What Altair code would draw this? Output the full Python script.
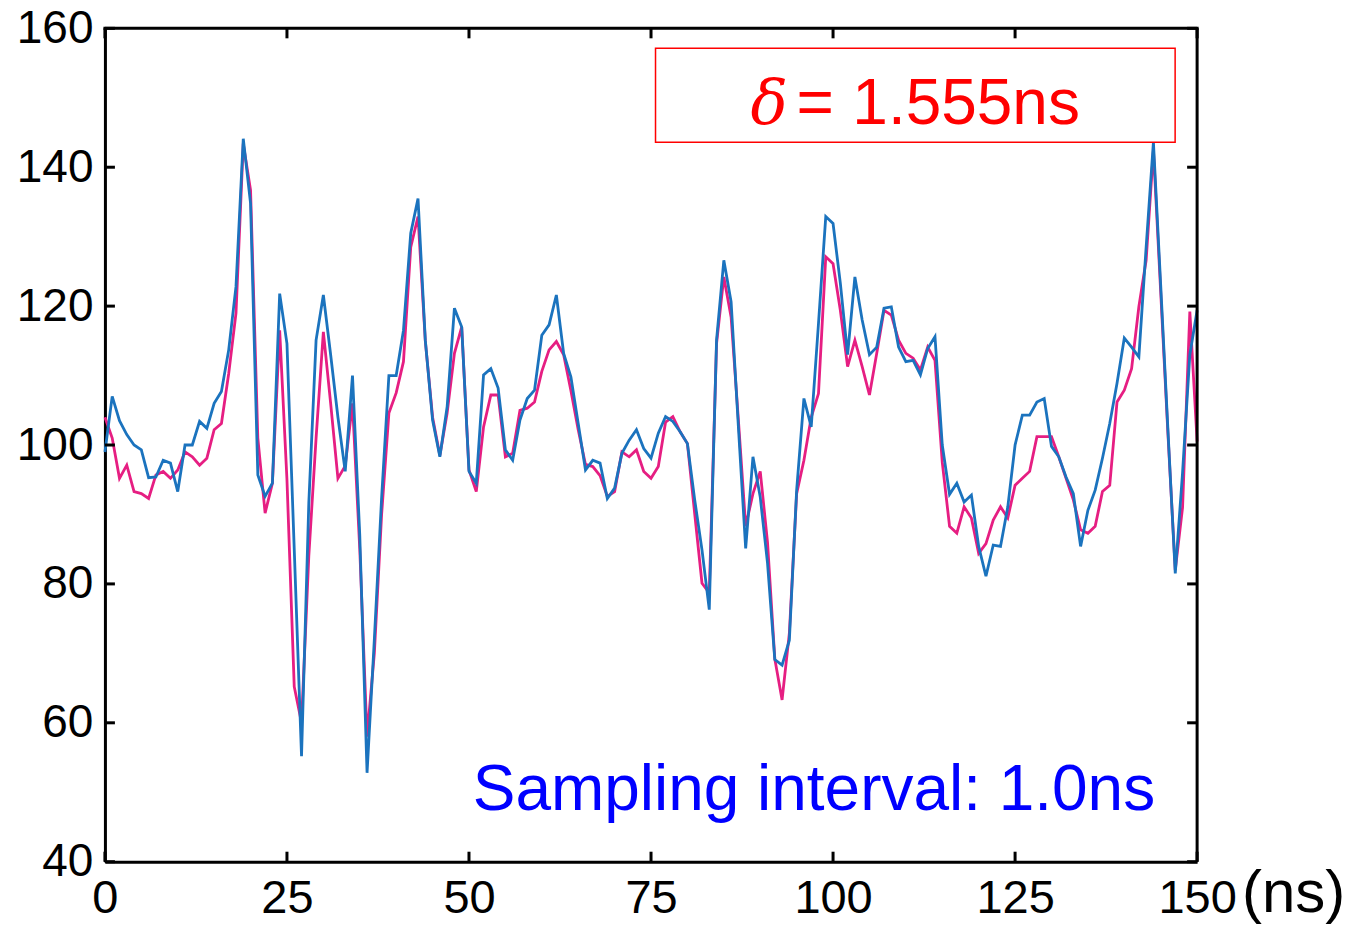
import altair as alt
import pandas as pd

# time axis (ns), sampling interval 1.0 ns
t_ns = list(range(151))

pink_vals = [
    104, 101, 95.2, 97.1, 93.3, 93, 92.3, 95.7, 96.2, 95.2,
    96.4, 99, 98.3, 97.1, 98.1, 102.2, 103.1, 110.3, 119, 143.4,
    136.7, 101, 90.2, 94.5, 116.5, 95, 65.2, 60, 84, 101,
    116.3, 106, 95.2, 97, 106, 85, 58, 70, 90, 104.6,
    107.5, 112, 128.5, 132.9, 115, 104, 98.5, 104.6, 113.2, 117,
    96.4, 93.3, 102.6, 107.2, 107.2, 98.3, 98.8, 105, 105.3, 106.2,
    110.6, 113.7, 114.9, 113, 107.8, 102.2, 97.2, 96.9, 95.6, 92.6,
    93.3, 99, 98.3, 99.3, 96.2, 95.2, 96.9, 103.3, 104.1, 101.9,
    100.2, 90.1, 80.1, 78.7, 114.6, 124.2, 118.4, 103.6, 88.3, 93,
    96.2, 86, 69.2, 63.3, 72.9, 93, 97.8, 104, 107.4, 127.1,
    126.1, 119.4, 111.3, 115.1, 111.3, 107.2, 113.2, 119.4, 118.7, 115.1,
    113.2, 112.5, 110.8, 114.1, 112.2, 97.5, 88.3, 87.3, 91.1, 89.5,
    84.4, 85.8, 89.2, 91.1, 89.5, 94.2, 95.2, 96.2, 101.2, 101.2,
    101.2, 98.3, 95.2, 92.1, 87.8, 87.3, 88.3, 93.3, 94.2, 106.2,
    107.9, 111, 119.9, 126.6, 142.5, 122, 101.5, 82, 91, 119.2,
    100.5,
]

blue_vals = [
    99, 107, 103.5, 101.5, 100, 99.3, 95.3, 95.4, 97.8, 97.4,
    93.3, 100, 100, 103.4, 102.4, 106, 107.7, 113.7, 122.8, 144.1,
    134.8, 95.7, 92.6, 94.5, 121.8, 114.6, 85, 55.2, 91.6, 115.1,
    121.6, 113, 104, 96.2, 110, 87, 52.8, 72, 92.4, 110,
    110, 116.5, 130.5, 135.5, 115.1, 103.6, 98.3, 105.5, 119.7, 117,
    96.2, 94.5, 110.1, 111, 108.2, 99.3, 97.8, 103.6, 106.7, 107.9,
    115.8, 117.3, 121.6, 113.2, 109.8, 103.1, 96.4, 97.8, 97.4, 92.3,
    93.8, 98.8, 100.7, 102.2, 99.5, 98.1, 101.7, 104.1, 103.4, 101.9,
    100.2, 92.1, 84.9, 76.3, 115.1, 126.6, 120.6, 102.6, 85.1, 98.3,
    92.5, 83, 69.1, 68.3, 71.9, 93.5, 106.7, 102.6, 117.5, 132.9,
    131.9, 123.3, 113, 124.2, 118, 113, 114.1, 119.7, 119.9, 114.1,
    112, 112.2, 110.1, 113.9, 115.6, 100, 92.9, 94.5, 91.8, 92.8,
    85.4, 81.1, 85.6, 85.4, 91.1, 100, 104.3, 104.3, 106.2, 106.7,
    99.8, 98.3, 95.4, 93, 85.4, 90.6, 93.5, 98.1, 103.1, 108.9,
    115.4, 114.1, 112.7, 128.5, 143.6, 123, 102, 81.5, 96, 113,
    119.4,
]

x_ticks = [0, 25, 50, 75, 100, 125, 150]
y_ticks = [40, 60, 80, 100, 120, 140, 160]

W, H = 1093, 834
FONT = "Liberation Sans"

df_pink = pd.DataFrame({"t": t_ns, "v": pink_vals})
df_blue = pd.DataFrame({"t": t_ns, "v": blue_vals})
df_xt = pd.DataFrame({"t": x_ticks})
df_yt = pd.DataFrame({"v": y_ticks})
one = pd.DataFrame({"a": [0]})

xscale = alt.Scale(domain=[0, 150], nice=False, zero=False)
yscale = alt.Scale(domain=[40, 160], nice=False, zero=False)

xaxis = alt.Axis(values=x_ticks, title=None, grid=False, tickSize=0,
                 labelPadding=14, labelFontSize=47, labelFont=FONT,
                 labelColor="#000", domainColor="#000", domainWidth=3,
                 labelFlush=False, labelOverlap=False)
yaxis = alt.Axis(values=y_ticks, title=None, grid=False, tickSize=0,
                 labelPadding=12, labelFontSize=46, labelFont=FONT,
                 labelColor="#000", domainColor="#000", domainWidth=3,
                 labelFlush=False, labelOverlap=False)

pink = alt.Chart(df_pink).mark_line(color="#E61E82", strokeWidth=2.8).encode(
    x=alt.X("t:Q", scale=xscale, axis=xaxis),
    y=alt.Y("v:Q", scale=yscale, axis=yaxis),
)
blue = alt.Chart(df_blue).mark_line(color="#1B73BE", strokeWidth=2.8).encode(
    x=alt.X("t:Q", scale=xscale, axis=xaxis),
    y=alt.Y("v:Q", scale=yscale, axis=yaxis),
)

tick_style = dict(color="#000", strokeWidth=3)
bottom_ticks = alt.Chart(df_xt).mark_rule(**tick_style).encode(
    x=alt.X("t:Q", scale=xscale), y=alt.value(H), y2=alt.value(H - 10))
top_ticks = alt.Chart(df_xt).mark_rule(**tick_style).encode(
    x=alt.X("t:Q", scale=xscale), y=alt.value(0), y2=alt.value(10))
left_ticks = alt.Chart(df_yt).mark_rule(**tick_style).encode(
    y=alt.Y("v:Q", scale=yscale), x=alt.value(0), x2=alt.value(10))
right_ticks = alt.Chart(df_yt).mark_rule(**tick_style).encode(
    y=alt.Y("v:Q", scale=yscale), x=alt.value(W), x2=alt.value(W - 10))

top_line = alt.Chart(one).mark_rule(color="#000", strokeWidth=3).encode(
    x=alt.value(-1.5), x2=alt.value(W + 1.5), y=alt.value(0))
right_line = alt.Chart(one).mark_rule(color="#000", strokeWidth=3).encode(
    x=alt.value(W), y=alt.value(0), y2=alt.value(H))

box = alt.Chart(one).mark_rect(
    fill="white", stroke="#FF0000", strokeWidth=1.5
).encode(x=alt.value(551), x2=alt.value(1071), y=alt.value(20), y2=alt.value(114))

delta_sym = alt.Chart(pd.DataFrame({"s": ["δ"]})).mark_text(
    font="DejaVu Serif", fontStyle="italic", fontSize=62, color="#FF0000",
    align="left", baseline="alphabetic"
).encode(text="s:N", x=alt.value(646), y=alt.value(96))

delta_eq = alt.Chart(pd.DataFrame({"s": ["="]})).mark_text(
    font=FONT, fontSize=64, color="#FF0000", align="left", baseline="alphabetic"
).encode(text="s:N", x=alt.value(692), y=alt.value(96))

delta_val = alt.Chart(pd.DataFrame({"s": ["1.555ns"]})).mark_text(
    font=FONT, fontSize=64, color="#FF0000", align="left", baseline="alphabetic"
).encode(text="s:N", x=alt.value(748), y=alt.value(96))

sampling = alt.Chart(pd.DataFrame({"s": ["Sampling interval: 1.0ns"]})).mark_text(
    font=FONT, fontSize=64, color="#0000FF", align="right", baseline="alphabetic"
).encode(text="s:N", x=alt.value(1051), y=alt.value(782))

unit = alt.Chart(pd.DataFrame({"s": ["(ns)"]})).mark_text(
    font=FONT, fontSize=60, color="#000", align="left", baseline="alphabetic"
).encode(text="s:N", x=alt.value(1138), y=alt.value(884))

chart = alt.layer(
    pink, blue, bottom_ticks, top_ticks, left_ticks, right_ticks,
    top_line, right_line,
    box, delta_sym, delta_eq, delta_val, sampling, unit
).properties(
    width=W, height=H,
    autosize=alt.AutoSizeParams(type="none"),
    padding={"left": 97, "top": 20, "right": 150, "bottom": 62},
).configure_view(
    strokeWidth=0
).configure(background="white")

chart.save("out.html", embed_options={"renderer": "svg", "actions": False})
